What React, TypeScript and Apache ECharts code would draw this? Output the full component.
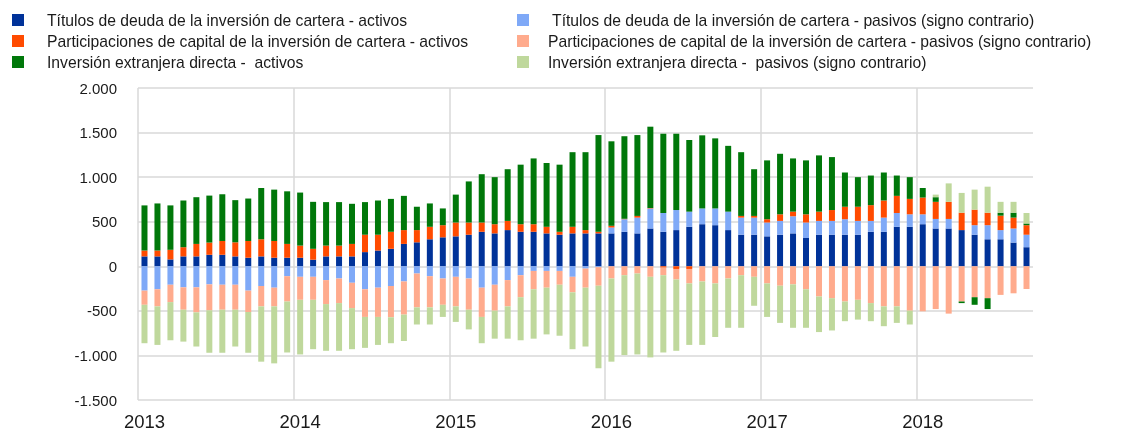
import React, { useEffect, useRef } from "react";
import * as echarts from "echarts";

const YEARS = ["2013", "2014", "2015", "2016", "2017", "2018"];
const MONTHS_IN_LAST_YEAR = 9;
const categories: string[] = [];
YEARS.forEach((y, i) => {
  const n = i === YEARS.length - 1 ? MONTHS_IN_LAST_YEAR : 12;
  for (let m = 1; m <= n; m++) categories.push(y + "-" + String(m).padStart(2, "0"));
});

const SERIES_NAMES = [
  "Títulos de deuda de la inversión de cartera - activos",
  " Títulos de deuda de la inversión de cartera - pasivos (signo contrario)",
  "Participaciones de capital de la inversión de cartera - activos",
  "Participaciones de capital de la inversión de cartera - pasivos (signo contrario)",
  "Inversión extranjera directa -  activos",
  "Inversión extranjera directa -  pasivos (signo contrario)",
];

const debtAssets = [
  111, 111, 77, 111, 111, 129, 129, 111, 96, 111, 96, 96,
  96, 74, 111, 111, 111, 159, 177, 196, 251, 269, 303, 325,
  336, 354, 387, 369, 406, 387, 387, 369, 354, 369, 369, 369,
  369, 387, 369, 424, 387, 406, 443, 472, 461, 406, 354, 354,
  336, 354, 369, 317, 354, 354, 354, 354, 387, 387, 443, 443,
  472, 424, 424, 406, 354, 303, 303, 266, 214,
];
const debtLiab = [
  -273, -258, -207, -236, -236, -203, -207, -207, -273, -221, -240, -111,
  -118, -118, -155, -137, -185, -258, -240, -221, -170, -81, -111, -137,
  -118, -137, -240, -207, -155, -100, -52, -52, -52, -118, -26, -10,
  66, 141, 177, 225, 211, 225, 170, 177, 188, 207, 192, 192,
  155, 155, 192, 174, 155, 155, 174, 155, 122, 159, 155, 140,
  111, 107, 107, 0, 107, 158, 103, 158, 140,
];
const equityAssets = [
  66, 66, 108, 103, 140, 137, 155, 158, 188, 192, 188, 155,
  136, 122, 121, 121, 140, 195, 177, 191, 155, 137, 140, 136,
  155, 137, 104, 103, 103, 85, 85, 74, 33, 74, 37, 18,
  19, 5, 19, 5, -15, -30, -30, 0, 0, 0, 19, 19,
  37, 74, 52, 92, 104, 122, 140, 159, 177, 192, 192, 173,
  188, 192, 192, 195, 174, 140, 162, 122, 107,
];
const equityLiab = [
  -159, -192, -195, -251, -281, -291, -280, -280, -240, -229, -210, -284,
  -258, -258, -269, -276, -284, -310, -328, -351, -372, -380, -350, -295,
  -332, -350, -328, -291, -295, -247, -206, -188, -155, -174, -214, -208,
  -137, -100, -81, -118, -85, -118, -162, -170, -192, -137, -100, -118,
  -192, -218, -203, -258, -339, -358, -395, -376, -413, -450, -450, -498,
  -505, -480, -531, -395, -347, -358, -321, -303, -255,
];
const fdiAssets = [
  506, 528, 498, 524, 524, 527, 524, 473, 476, 575, 576, 590,
  595, 527, 488, 488, 450, 366, 384, 369, 384, 262, 262, 188,
  313, 461, 542, 528, 580, 668, 738, 716, 753, 837, 874, 1085,
  948, 926, 907, 912, 889, 856, 804, 820, 786, 738, 715, 524,
  660, 679, 597, 605, 631, 594, 384, 332, 332, 314, 228, 244,
  107, 52, 0, -18, -85, -122, 33, 55, 19,
];
const fdiLiab = [
  -431, -432, -428, -358, -383, -476, -483, -413, -457, -620, -639, -572,
  -613, -554, -524, -535, -461, -347, -314, -291, -296, -192, -192, -136,
  -174, -221, -295, -314, -362, -483, -554, -524, -572, -638, -660, -926,
  -933, -896, -908, -904, -867, -800, -690, -712, -601, -553, -590, -325,
  -376, -417, -487, -432, -399, -362, -221, -222, -203, -222, -185, -155,
  0, 29, 207, 222, 225, 292, 122, 122, 118,
];

const SERIES_DATA = [debtAssets, debtLiab, equityAssets, equityLiab, fdiAssets, fdiLiab];
const COLORS = ["#003299", "#7FA9F7", "#FF4B00", "#FFAB8D", "#00780A", "#BFD89C"];

const Y_MIN = -1500;
const Y_MAX = 2000;
const Y_STEP = 500;

function fmt(v: number): string {
  const s = String(Math.abs(v));
  const withDots = s.replace(/\B(?=(\d{3})+(?!\d))/g, ".");
  return (v < 0 ? "-" : "") + withDots;
}

export default function App() {
  const ref = useRef<HTMLDivElement>(null);
  useEffect(() => {
    if (!ref.current) return;
    const chart = echarts.init(ref.current, null, { renderer: "svg" });
    const font = "Liberation Sans, Arial, sans-serif";
    const legendBase = {
      orient: "vertical",
      top: 12,
      padding: 0,
      itemWidth: 12,
      itemHeight: 12,
      itemGap: 5,
      icon: "rect",
      selectedMode: false,
    };
    chart.setOption({
      animation: false,
      textStyle: { fontFamily: font },
      legend: [
        {
          ...legendBase,
          left: 12,
          data: [SERIES_NAMES[0], SERIES_NAMES[2], SERIES_NAMES[4]],
          textStyle: { fontSize: 15.7, color: "#1a1a1a", fontFamily: font, padding: [0, 0, 0, 18] },
        },
        {
          ...legendBase,
          left: 517,
          data: [SERIES_NAMES[1], SERIES_NAMES[3], SERIES_NAMES[5]],
          textStyle: { fontSize: 15.7, color: "#1a1a1a", fontFamily: font, padding: [0, 0, 0, 14] },
        },
      ],
      grid: { left: 138, right: 95, top: 88, bottom: 32, containLabel: false },
      xAxis: {
        type: "category",
        data: categories,
        boundaryGap: true,
        axisLine: { show: false, onZero: false },
        axisTick: { show: false },
        axisLabel: {
          interval: 11,
          margin: 12,
          fontSize: 18.5,
          color: "#1a1a1a",
          fontFamily: font,
          formatter: (v: string) => v.slice(0, 4),
        },
        splitLine: {
          show: true,
          interval: 11,
          showMaxLine: false,
          lineStyle: { color: "#d9d9d9", width: 1.5 },
        },
      },
      yAxis: {
        type: "value",
        min: Y_MIN,
        max: Y_MAX,
        interval: Y_STEP,
        axisLine: { show: false },
        axisTick: { show: false },
        axisLabel: { margin: 21, fontSize: 15, color: "#1a1a1a", fontFamily: font, formatter: fmt },
        splitLine: { show: true, lineStyle: { color: "#d9d9d9", width: 1.5 } },
      },
      series: SERIES_NAMES.map((name, i) => ({
        name,
        type: "bar",
        stack: "total",
        barWidth: 6,
        itemStyle: { color: COLORS[i] },
        data: SERIES_DATA[i],
      })),
    });
    return () => chart.dispose();
  }, []);
  return <div ref={ref} style={{ position: "fixed", left: 0, top: 0, width: 1128, height: 432 }} />;
}
